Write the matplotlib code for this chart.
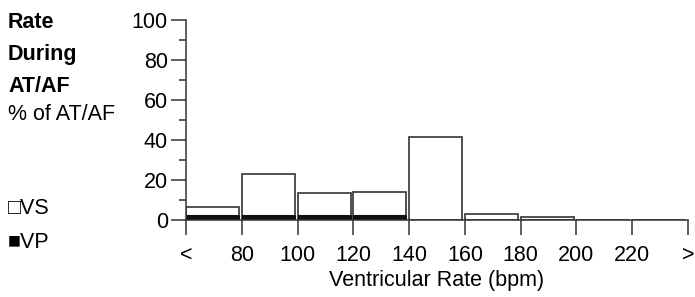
import matplotlib.pyplot as plt
import numpy as np

plt.rcParams['font.family'] = ['Liberation Sans', 'DejaVu Sans']

tick_labels = ["<", "80", "100", "120", "140", "160", "180", "200", "220", ">"]
vs_pct = [6.5, 23, 13.5, 14, 41.5, 3, 1.5, 0, 0]
vp_pct = [2.5, 2.5, 2.5, 2.5, 0, 0, 0, 0, 0]

W, H = 695, 297
fig = plt.figure(figsize=(W / 100, H / 100), dpi=100)
ax = fig.add_axes([186 / W, 1 - 220 / H, (688 - 186) / W, 200 / H])

edge = "#333333"
x = np.arange(len(vs_pct))
ax.bar(x, vs_pct, width=0.95, align="edge", color="white", edgecolor=edge, linewidth=1.2)
ax.bar(x, vp_pct, width=0.95, align="edge", color="#111111", edgecolor="#111111", linewidth=0.8)

ax.set_xlim(0, 9)
ax.set_ylim(0, 100)
ax.set_xticks(np.arange(len(tick_labels)))
ax.set_xticklabels(tick_labels)
ax.set_yticks(np.arange(0, 101, 20))
ax.set_yticks(np.arange(10, 100, 20), minor=True)

for s in ["top", "right"]:
    ax.spines[s].set_visible(False)
for s in ["left", "bottom"]:
    ax.spines[s].set_color(edge)
    ax.spines[s].set_linewidth(1.1)

fs = 15.5
ax.tick_params(axis="both", which="major", length=11, width=1.1, color=edge,
               labelsize=fs, pad=2)
ax.tick_params(axis="y", which="minor", length=5, width=1.1, color=edge)
ax.tick_params(axis="x", pad=7)
ax.set_xlabel("Ventricular Rate (bpm)", fontsize=fs, labelpad=3)

fig.text(8 / W, 1 - 22 / H, "Rate", fontsize=fs, fontweight="bold", va="center")
fig.text(8 / W, 1 - 55 / H, "During", fontsize=fs, fontweight="bold", va="center")
fig.text(8 / W, 1 - 87 / H, "AT/AF", fontsize=fs, fontweight="bold", va="center")
fig.text(8 / W, 1 - 114 / H, "% of AT/AF", fontsize=fs, va="center")
fig.text(8 / W, 1 - 209 / H, "\u25a1VS", fontsize=fs, va="center")
fig.text(8 / W, 1 - 243 / H, "\u25a0VP", fontsize=fs, va="center")

plt.savefig("out.png", dpi=100)
